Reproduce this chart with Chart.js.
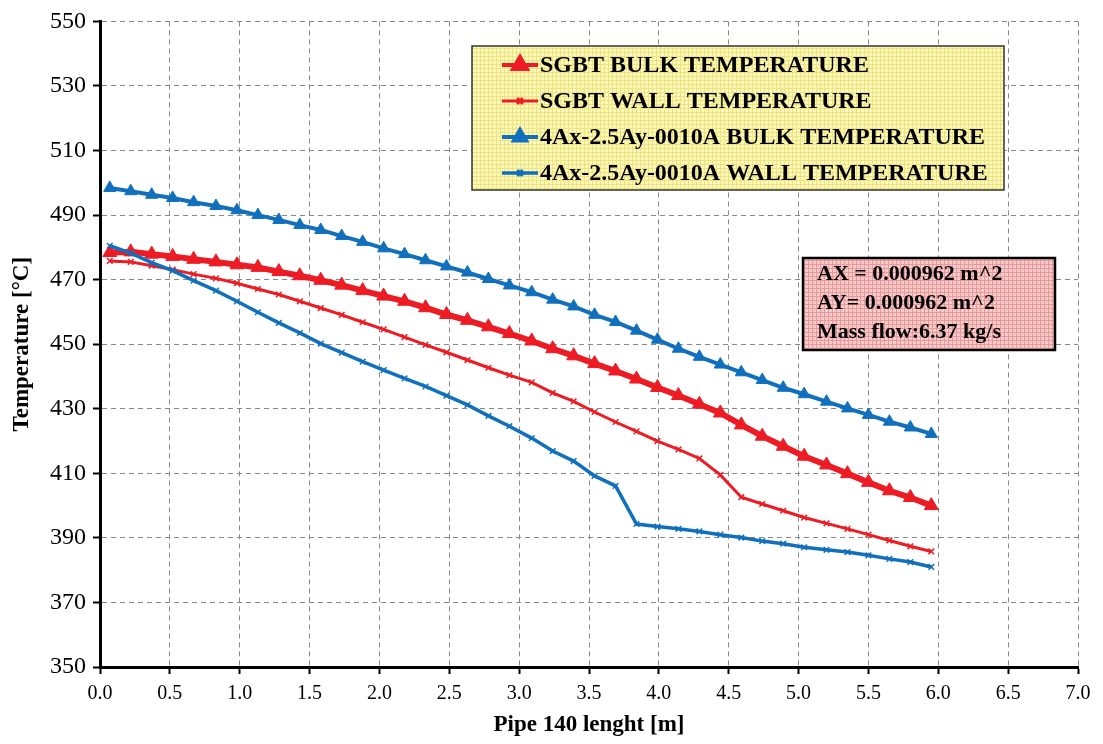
<!DOCTYPE html>
<html>
<head>
<meta charset="utf-8">
<script src="https://cdn.jsdelivr.net/npm/chart.js@4/dist/chart.umd.min.js"></script>
<style>
html,body{margin:0;padding:0;background:#fff;}
#wrap{width:1103px;height:744px;}
</style>
</head>
<body>
<div id="wrap"><canvas id="c" width="1103" height="744"></canvas></div>
<script>
// ---------- data ----------
const pipePosition = [0.07, 0.22, 0.37, 0.52, 0.67, 0.83, 0.98, 1.13, 1.28, 1.43,
  1.58, 1.73, 1.88, 2.03, 2.18, 2.33, 2.48, 2.63, 2.78, 2.93,
  3.09, 3.24, 3.39, 3.54, 3.69, 3.84, 3.99, 4.14, 4.29, 4.44,
  4.59, 4.74, 4.89, 5.04, 5.20, 5.35, 5.50, 5.65, 5.80, 5.95];

const sgbtBulk = [478.4, 478.6, 477.9, 477.2, 476.3, 475.5, 474.6, 473.8, 472.5, 471.2,
  469.8, 468.3, 466.6, 464.9, 463.3, 461.3, 459.2, 457.4, 455.4, 453.3,
  451.0, 448.6, 446.4, 444.0, 441.7, 439.2, 436.6, 434.1, 431.4, 428.7,
  425.0, 421.5, 418.4, 415.3, 412.6, 409.9, 407.2, 404.6, 402.5, 400.0];

const sgbtWall = [475.8, 475.5, 474.3, 473.1, 471.7, 470.4, 468.9, 467.1, 465.4, 463.3,
  461.2, 459.1, 456.8, 454.6, 452.2, 449.8, 447.5, 445.1, 442.7, 440.4,
  438.2, 434.9, 432.3, 429.0, 425.9, 423.0, 420.0, 417.4, 414.6, 409.5,
  402.6, 400.5, 398.4, 396.3, 394.5, 392.8, 391.0, 389.2, 387.4, 385.8];

const caseBulk = [498.4, 497.4, 496.3, 495.3, 494.0, 492.8, 491.5, 490.0, 488.5, 486.9,
  485.4, 483.5, 481.7, 479.7, 477.9, 476.0, 474.1, 472.2, 470.2, 468.2,
  466.1, 463.8, 461.7, 459.1, 456.9, 454.2, 451.4, 448.6, 446.1, 443.7,
  441.3, 438.9, 436.5, 434.5, 432.2, 430.1, 428.1, 426.0, 424.2, 422.2];

const caseWall = [480.5, 478.2, 475.3, 472.8, 469.7, 466.6, 463.3, 459.9, 456.6, 453.5,
  450.2, 447.4, 444.6, 442.0, 439.4, 436.9, 434.1, 431.2, 427.8, 424.6,
  420.9, 416.9, 413.8, 409.2, 406.1, 394.3, 393.5, 392.8, 392.0, 391.0,
  390.1, 389.0, 388.2, 387.1, 386.3, 385.6, 384.6, 383.5, 382.5, 381.0];

const seriesLabels = ['SGBT BULK TEMPERATURE', 'SGBT WALL TEMPERATURE',
  '4Ax-2.5Ay-0010A BULK TEMPERATURE', '4Ax-2.5Ay-0010A WALL TEMPERATURE'];

const infoLines = ['AX = 0.000962 m^2', 'AY= 0.000962 m^2', 'Mass flow:6.37 kg/s'];

const xTitle = 'Pipe 140 lenght [m]';
const yTitle = 'Temperature [°C]';

// ---------- styling ----------
const RED = '#ed1c24';
const BLUE = '#1170bd';
const SERIF = '"Liberation Serif", "Times New Roman", serif';

function pts(vals){ return vals.map((v,i)=>({x: pipePosition[i], y: v})); }

function makePattern(bg, line){
  const c = document.createElement('canvas');
  c.width = 4; c.height = 4;
  const g = c.getContext('2d');
  g.fillStyle = bg; g.fillRect(0,0,4,4);
  g.fillStyle = line; g.fillRect(0,0,4,1); g.fillRect(0,0,1,4);
  return g.createPattern(c, 'repeat');
}

const boxesPlugin = {
  id: 'boxes',
  afterDatasetsDraw(chart){
    const ctx = chart.ctx;
    const ds = chart.data.datasets;
    // legend box
    ctx.save();
    const L = {x: 472, y: 46, w: 532, h: 144};
    ctx.fillStyle = makePattern('#fbf8c0', '#efe37a');
    ctx.fillRect(L.x, L.y, L.w, L.h);
    ctx.lineWidth = 1.5; ctx.strokeStyle = '#333';
    ctx.strokeRect(L.x, L.y, L.w, L.h);
    const rowY = [65, 101, 137, 173];
    ds.forEach((d, i) => {
      const y = rowY[i];
      ctx.strokeStyle = d.borderColor;
      ctx.lineWidth = Math.min(d.borderWidth, 4);
      ctx.beginPath(); ctx.moveTo(502, y); ctx.lineTo(538, y); ctx.stroke();
      ctx.fillStyle = d.pointBackgroundColor;
      ctx.strokeStyle = d.pointBorderColor;
      Chart.helpers.drawPoint(ctx, {pointStyle: d.pointStyle, radius: d.pointRadius, borderWidth: d.pointBorderWidth, rotation: 0}, 520, y);
      ctx.fillStyle = '#000';
      ctx.font = 'bold 24px ' + SERIF;
      ctx.textBaseline = 'middle';
      ctx.textAlign = 'left';
      ctx.fillText(d.label, 540, y + 1);
    });
    // info box
    const B = {x: 803, y: 258, w: 252, h: 92};
    ctx.fillStyle = makePattern('#f6caca', '#e79a9a');
    ctx.fillRect(B.x, B.y, B.w, B.h);
    ctx.lineWidth = 2.5; ctx.strokeStyle = '#000';
    ctx.strokeRect(B.x, B.y, B.w, B.h);
    ctx.fillStyle = '#000';
    ctx.font = 'bold 22px ' + SERIF;
    ctx.textBaseline = 'middle';
    infoLines.forEach((t, i) => ctx.fillText(t, 817, 274 + i * 29));
    ctx.restore();
  }
};

const chart = new Chart(document.getElementById('c'), {
  type: 'line',
  data: {
    datasets: [
      { label: seriesLabels[0], data: pts(sgbtBulk), borderColor: RED, backgroundColor: RED,
        borderWidth: 6, pointStyle: 'triangle', pointRadius: 8, pointBorderWidth: 1,
        pointBackgroundColor: RED, pointBorderColor: RED, order: 4 },
      { label: seriesLabels[1], data: pts(sgbtWall), borderColor: RED, backgroundColor: RED,
        borderWidth: 3, pointStyle: 'crossRot', pointRadius: 4, pointBorderWidth: 1.5,
        pointBackgroundColor: RED, pointBorderColor: RED, order: 3 },
      { label: seriesLabels[2], data: pts(caseBulk), borderColor: BLUE, backgroundColor: BLUE,
        borderWidth: 4, pointStyle: 'triangle', pointRadius: 7, pointBorderWidth: 1,
        pointBackgroundColor: BLUE, pointBorderColor: BLUE, order: 2 },
      { label: seriesLabels[3], data: pts(caseWall), borderColor: BLUE, backgroundColor: BLUE,
        borderWidth: 3.5, pointStyle: 'crossRot', pointRadius: 4, pointBorderWidth: 1.5,
        pointBackgroundColor: BLUE, pointBorderColor: BLUE, order: 1 }
    ]
  },
  options: {
    responsive: false,
    animation: false,
    devicePixelRatio: 1,
    layout: { padding: { top: 15, right: 25, left: 0, bottom: 0 } },
    elements: { line: { tension: 0 } },
    plugins: { legend: { display: false }, tooltip: { enabled: false } },
    scales: {
      x: {
        type: 'linear', min: 0, max: 7,
        afterFit(s){ s.height = 77; },
        ticks: { stepSize: 0.5, color: '#000', padding: 8,
          font: { family: SERIF, size: 20 },
          callback: v => Number(v).toFixed(1), maxRotation: 0, autoSkip: false },
        grid: { color: '#888', lineWidth: 1, tickColor: '#000', tickWidth: 2, tickLength: 7, tickBorderDash: [] },
        border: { color: '#000', width: 3, dash: [5, 4] },
        title: { display: true, text: xTitle, color: '#000',
          font: { family: SERIF, size: 23, weight: 'bold' }, padding: { top: 0, bottom: 5 } }
      },
      y: {
        min: 350, max: 550,
        afterFit(s){ s.width = 100; },
        ticks: { stepSize: 20, color: '#000', padding: 7,
          font: { family: SERIF, size: 24 } },
        grid: { color: '#888', lineWidth: 1, tickColor: '#000', tickWidth: 2, tickLength: 7, tickBorderDash: [] },
        border: { color: '#000', width: 3, dash: [5, 4] },
        title: { display: true, text: yTitle, color: '#000',
          font: { family: SERIF, size: 23, weight: 'bold' }, padding: { top: 8, bottom: 0 } }
      }
    }
  },
  plugins: [boxesPlugin]
});
</script>
</body>
</html>
